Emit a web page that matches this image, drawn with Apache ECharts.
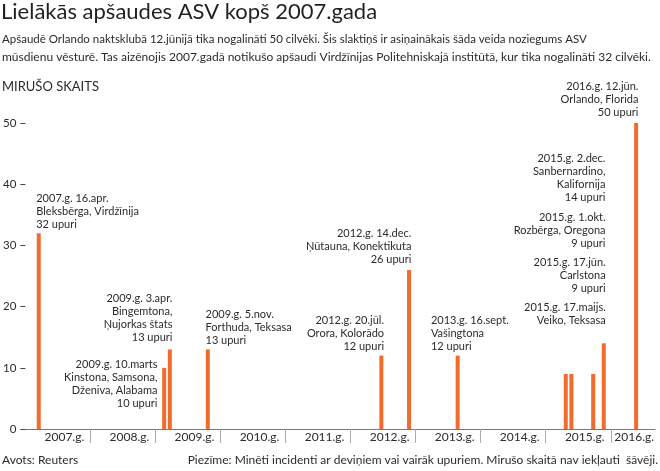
<!DOCTYPE html>
<html>
<head>
<meta charset="utf-8">
<script src="https://cdn.jsdelivr.net/npm/echarts@6/dist/echarts.min.js"></script>
<style>
html,body{margin:0;padding:0;background:#fff;}
#c{width:660px;height:471px;}
</style>
</head>
<body>
<div id="c"></div>
<script>
// ---- data ----
const yearStarts = [2007, 2008, 2009, 2010, 2011, 2012, 2013, 2014, 2015, 2016];
const yearLabels = ['2007.g.', '2008.g.', '2009.g.', '2010.g.', '2011.g.', '2012.g.', '2013.g.', '2014.g.', '2015.g.', '2016.g.'];
// bar positions along the time axis (decimal years)
const eventPos = [2007.206, 2009.134, 2009.221, 2009.805, 2012.473, 2012.899, 2013.646, 2015.308, 2015.395, 2015.730, 2015.892, 2016.390];
const victims = [32, 10, 13, 13, 12, 26, 12, 9, 9, 9, 14, 50];
const eventLabels = [
  '2007.g. 16.apr.\nBleksbērga, Virdžīnija\n32 upuri',
  '2009.g. 10.marts\nKinstona, Samsona,\nDženiva, Alabama\n10 upuri',
  '2009.g. 3.apr.\nBingemtona,\nŅujorkas štats\n13 upuri',
  '2009.g. 5.nov.\nForthuda, Teksasa\n13 upuri',
  '2012.g. 20.jūl.\nOrora, Kolorādo\n12 upuri',
  '2012.g. 14.dec.\nŅūtauna, Konektikuta\n26 upuri',
  '2013.g. 16.sept.\nVašingtona\n12 upuri',
  '2015.g. 17.maijs.\nVeiko, Teksasa',
  '2015.g. 17.jūn.\nČarlstona\n9 upuri',
  '2015.g. 1.okt.\nRozbērga, Oregona\n9 upuri',
  '2015.g. 2.dec.\nSanbernardino,\nKalifornija\n14 upuri',
  '2016.g. 12.jūn.\nOrlando, Florida\n50 upuri'
];
const yTicks = [0, 10, 20, 30, 40, 50];

const titleText = 'Lielākās apšaudes ASV kopš 2007.gada';
const subtitleLines = [
  'Apšaudē Orlando naktsklubā 12.jūnijā tika nogalināti 50 cilvēki. Šis slaktiņš ir asiņainākais šāda veida noziegums ASV',
  'mūsdienu vēsturē. Tas aizēnojis 2007.gadā notikušo apšaudi Virdžīnijas Politehniskajā institūtā, kur tika nogalināti 32 cilvēki.'
];
const yName = 'MIRUŠO SKAITS';
const sourceText = 'Avots: Reuters';
const noteText = 'Piezīme: Minēti incidenti ar deviņiem vai vairāk upuriem. Mirušo skaitā nav iekļauti  šāvēji.';

// ---- label layout (styling) ----
const labelLayout = [
  {align: 'left',  dx: -2.5,  dy: -2.5},
  {align: 'right', dx: -6.7,  dy: 41.8},
  {align: 'right', dx: 2.6,   dy: -5.6},
  {align: 'left',  dx: -2.3,  dy: -2.9},
  {align: 'right', dx: 2.7,   dy: -2.4},
  {align: 'right', dx: 2.3,   dy: -4.1},
  {align: 'left',  dx: -26.7, dy: -2.6},
  {align: 'right', dx: 40,    dy: -46.7},
  {align: 'right', dx: 34.3,  dy: -79.1},
  {align: 'right', dx: 12.3,  dy: -124.1},
  {align: 'right', dx: 1.7,   dy: -139.5},
  {align: 'right', dx: 2.3,   dy: -3.8}
];

const FONT = 'Lato';
const TXT = '#2b2b2b';
const ORANGE = '#f26a2c';

const chart = echarts.init(document.getElementById('c'), null, {renderer: 'canvas'});

const labelPos = yearStarts.map((y, i) => i < yearStarts.length - 1 ? y + 0.6 : y + 0.36);

chart.setOption({
  animation: false,
  backgroundColor: '#fff',
  textStyle: {fontFamily: FONT},
  title: [
    {text: titleText, left: 1, top: 0, padding: 0,
     textStyle: {fontFamily: FONT, fontSize: 22, fontWeight: 'normal', color: '#231f20', lineHeight: 24}},
    {text: '{a|' + subtitleLines[0] + '}\n{b|' + subtitleLines[1] + '}', left: 2, top: 30, padding: 0,
     textStyle: {fontFamily: FONT, fontSize: 11.5, fontWeight: 'normal', color: TXT, lineHeight: 18,
       rich: {
         a: {fontFamily: FONT, fontSize: 11.5, color: TXT, lineHeight: 18},
         b: {fontFamily: FONT, fontSize: 12, color: TXT, lineHeight: 18}
       }}},
    {text: yName, left: 2, top: 79, padding: 0,
     textStyle: {fontFamily: FONT, fontSize: 13, fontWeight: 'normal', color: TXT, lineHeight: 16}},
    {text: sourceText, left: 2, top: 452, padding: 0,
     textStyle: {fontFamily: FONT, fontSize: 12, fontWeight: 'normal', color: TXT, lineHeight: 16}},
    {text: noteText, right: 2, top: 452, padding: 0,
     textStyle: {fontFamily: FONT, fontSize: 12, fontWeight: 'normal', color: TXT, lineHeight: 16}}
  ],
  grid: {left: 20, right: 5, top: 123, bottom: 42},
  xAxis: {
    type: 'value',
    min: 2007,
    max: 2016.68,
    splitLine: {show: false},
    axisLine: {show: true, lineStyle: {color: '#777', width: 1}},
    axisTick: {show: true, customValues: yearStarts.slice(1), length: 14, lineStyle: {color: '#aaa', width: 1}},
    axisLabel: {
      customValues: labelPos,
      margin: 2,
      fontFamily: FONT, fontSize: 12, color: TXT,
      formatter: v => yearLabels[Math.floor(v + 1e-6) - yearStarts[0]] || ''
    }
  },
  yAxis: {
    type: 'value',
    min: yTicks[0],
    max: yTicks[yTicks.length - 1],
    interval: 10,
    splitLine: {show: false},
    axisLine: {show: false},
    axisTick: {show: true, length: 5, lineStyle: {color: '#444', width: 1}},
    axisLabel: {margin: 9, fontFamily: FONT, fontSize: 11.5, color: TXT}
  },
  series: [{
    type: 'bar',
    barWidth: 4,
    itemStyle: {color: ORANGE},
    data: eventPos.map((x, i) => ({
      value: [x, victims[i]],
      label: {
        show: true,
        position: 'top',
        distance: 0,
        align: labelLayout[i].align,
        verticalAlign: 'bottom',
        offset: [labelLayout[i].dx, labelLayout[i].dy],
        formatter: eventLabels[i],
        fontFamily: FONT,
        fontSize: 11,
        lineHeight: 13,
        color: TXT
      }
    }))
  }]
});
</script>
</body>
</html>
